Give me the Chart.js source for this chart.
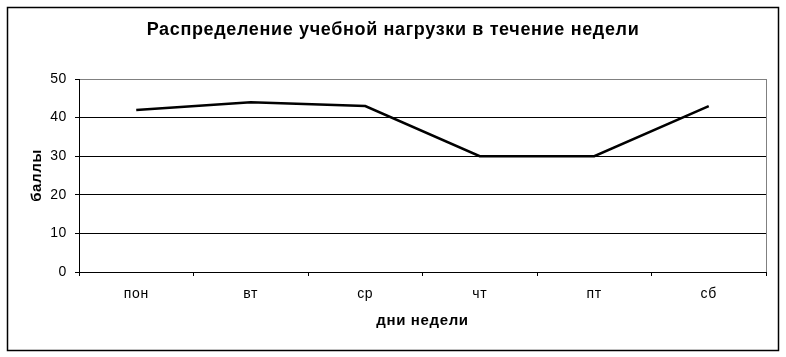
<!DOCTYPE html>
<html>
<head>
<meta charset="utf-8">
<script src="https://cdn.jsdelivr.net/npm/chart.js@4/dist/chart.umd.min.js"></script>
<style>
  body { margin: 0; background: #fff; }
</style>
</head>
<body>
<canvas id="nagruzkaChart" width="786" height="357"></canvas>
<script>
// Данные
const days = ["пон", "вт", "ср", "чт", "пт", "сб"];
const scores = [42, 44, 43, 30, 30, 43];
const yTicks = [0, 10, 20, 30, 40, 50];

const chartTitle = "Распределение учебной нагрузки в течение недели";
const xTitle = "дни недели";
const yTitle = "баллы";

// разрядка букв, как в оригинале
const spacing = {
  id: "spacing",
  beforeDraw(chart) {
    chart.ctx.letterSpacing = "0.65px";
  }
};

// рамка вокруг всего и серая рамка области построения
const frame = {
  id: "frame",
  afterDraw(chart) {
    const ctx = chart.ctx;
    const a = chart.chartArea;
    ctx.save();
    ctx.strokeStyle = "#000";
    ctx.lineWidth = 1.5;
    ctx.strokeRect(7.5, 7.5, 771, 343);
    ctx.strokeStyle = "#808080";
    ctx.lineWidth = 1;
    ctx.beginPath();
    ctx.moveTo(Math.round(a.right) + 0.5, a.top);
    ctx.lineTo(Math.round(a.right) + 0.5, a.bottom);
    ctx.stroke();
    ctx.restore();
  }
};

Chart.defaults.font.family = "'Liberation Sans', Arial, sans-serif";
Chart.defaults.color = "#000";

new Chart(document.getElementById("nagruzkaChart"), {
  type: "line",
  data: {
    labels: days,
    datasets: [{
      label: yTitle,
      data: scores,
      borderColor: "#000",
      borderWidth: 2.5,
      pointRadius: 0,
      tension: 0
    }]
  },
  options: {
    responsive: false,
    animation: false,
    layout: { padding: { left: 20, right: 20, top: 0, bottom: 0 } },
    plugins: {
      legend: { display: false },
      tooltip: { enabled: false },
      title: {
        display: true,
        text: chartTitle,
        color: "#000",
        font: { size: 18, weight: "bold" },
        padding: { top: 19.2, bottom: 38.2 }
      }
    },
    scales: {
      x: {
        offset: true,
        afterFit: s => { s.height = 85; },
        grid: { offset: true, drawOnChartArea: false, drawTicks: true, tickLength: 4, color: "#000" },
        border: { color: "#000", width: 1 },
        ticks: { font: { size: 14 }, padding: 10, color: "#000" },
        title: { display: true, text: xTitle, font: { size: 15, weight: "bold" }, padding: { top: 0, bottom: 27 }, color: "#000" }
      },
      y: {
        min: 0,
        max: 50,
        afterFit: s => { s.width = 59; },
        afterBuildTicks: s => { s.ticks = yTicks.map(v => ({ value: v })); },
        grid: {
          color: c => (c.tick && c.tick.value === 50 ? "#808080" : "#000"),
          tickColor: "#000",
          tickLength: 4,
          lineWidth: 1
        },
        border: { color: "#000", width: 1 },
        ticks: { font: { size: 14 }, padding: 8, color: "#000" },
        title: { display: true, text: yTitle, font: { size: 15, weight: "bold" }, padding: { top: 7.5, bottom: 0 }, color: "#000" }
      }
    }
  },
  plugins: [spacing, frame]
});
</script>
</body>
</html>
